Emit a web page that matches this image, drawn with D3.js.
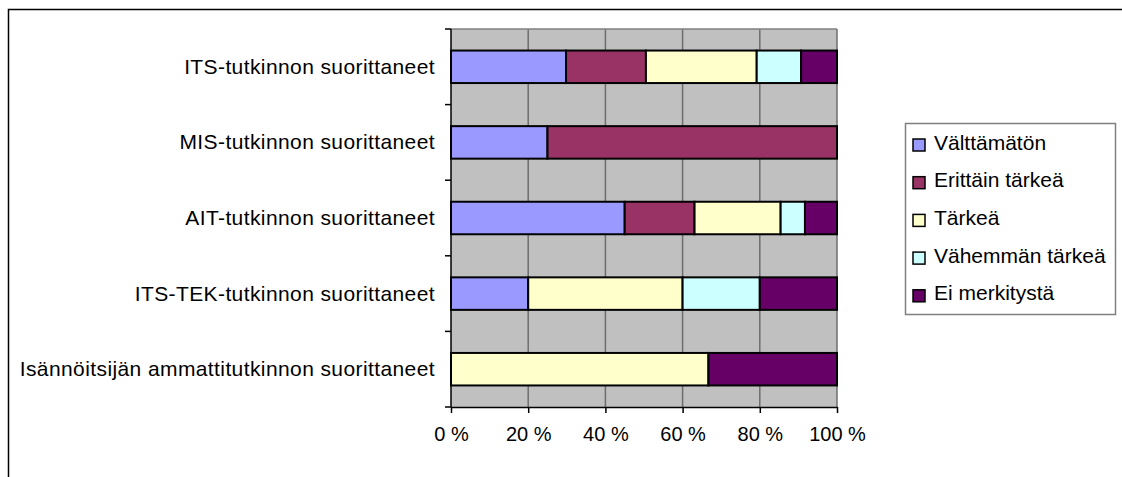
<!DOCTYPE html>
<html>
<head>
<meta charset="utf-8">
<script src="https://cdn.jsdelivr.net/npm/d3@7/dist/d3.min.js"></script>
<style>
  html, body { margin: 0; padding: 0; background: #fff; }
  svg { display: block; font-family: "Liberation Sans", Arial, sans-serif; }
</style>
</head>
<body>
<svg id="chart" width="1122" height="477"></svg>
<script>
// Respondent groups (top to bottom)
const categories = [
  "ITS-tutkinnon suorittaneet",
  "MIS-tutkinnon suorittaneet",
  "AIT-tutkinnon suorittaneet",
  "ITS-TEK-tutkinnon suorittaneet",
  "Isännöitsijän ammattitutkinnon suorittaneet"
];

// Answer classes, in stacking order
const seriesNames = ["Välttämätön", "Erittäin tärkeä", "Tärkeä", "Vähemmän tärkeä", "Ei merkitystä"];

// Share of answers (%) per group, one array per answer class
const valttamaton    = [29.8, 25.0, 45.0, 20.0, 0];
const erittainTarkea = [20.7, 75.0, 18.1, 0, 0];
const tarkea         = [28.7, 0, 22.3, 40.0, 66.7];
const vahemmanTarkea = [11.5, 0, 6.3, 20.0, 0];
const eiMerkitysta   = [9.3, 0, 8.3, 20.0, 33.3];

const xTicks = [0, 20, 40, 60, 80, 100];
const xTickLabels = ["0 %", "20 %", "40 %", "60 %", "80 %", "100 %"];

const colors = ["#9999FF", "#993366", "#FFFFCC", "#CCFFFF", "#660066"];

const seriesValues = [valttamaton, erittainTarkea, tarkea, vahemmanTarkea, eiMerkitysta];
const rows = categories.map((c, i) => {
  const r = { category: c };
  seriesNames.forEach((s, k) => { r[s] = seriesValues[k][i]; });
  return r;
});

const svg = d3.select("#chart");

// Chart frame
svg.append("rect")
  .attr("x", 8.5).attr("y", 9.5)
  .attr("width", 1200).attr("height", 600)
  .attr("fill", "#fff").attr("stroke", "#000").attr("stroke-width", 1.5);

const plot = { left: 451, right: 837, top: 29, bottom: 407 };

const x = d3.scaleLinear().domain([0, 100]).range([plot.left, plot.right]);
const y = d3.scaleBand().domain(categories)
  .range([plot.top, plot.bottom])
  .paddingInner(0.57).paddingOuter(0.285);

// Plot background
svg.append("rect")
  .attr("x", plot.left).attr("y", plot.top)
  .attr("width", plot.right - plot.left).attr("height", plot.bottom - plot.top)
  .attr("fill", "#C0C0C0");

// Vertical gridlines
svg.append("g")
  .selectAll("line")
  .data(xTicks.filter(t => t > 0))
  .join("line")
  .attr("x1", d => x(d)).attr("x2", d => x(d))
  .attr("y1", plot.top).attr("y2", plot.bottom)
  .attr("stroke", "#6e6e6e").attr("stroke-width", 1.5);

// Top plot border
svg.append("line")
  .attr("x1", plot.left).attr("x2", plot.right)
  .attr("y1", plot.top).attr("y2", plot.top)
  .attr("stroke", "#808080").attr("stroke-width", 1.5);

// Stacked bars
const stack = d3.stack().keys(seriesNames);
const stacked = stack(rows);

svg.append("g")
  .selectAll("g")
  .data(stacked)
  .join("g")
  .attr("fill", (d, i) => colors[i])
  .selectAll("rect")
  .data(d => d.filter(p => p[1] - p[0] > 0))
  .join("rect")
  .attr("x", d => x(d[0]))
  .attr("width", d => x(d[1]) - x(d[0]))
  .attr("y", d => y(d.data.category))
  .attr("height", y.bandwidth())
  .attr("stroke", "#000").attr("stroke-width", 2);

// X axis
const xAxis = d3.axisBottom(x)
  .tickValues(xTicks)
  .tickFormat((d, i) => xTickLabels[i])
  .tickSize(6).tickSizeOuter(0).tickPadding(14);

const gx = svg.append("g")
  .attr("transform", `translate(0,${plot.bottom})`)
  .call(xAxis);
gx.select(".domain").attr("stroke", "#000").attr("stroke-width", 1.5);
gx.selectAll(".tick line").attr("stroke", "#000").attr("stroke-width", 1.5);
gx.selectAll(".tick text")
  .attr("font-size", 20).attr("font-family", "Liberation Sans, Arial, sans-serif")
  .attr("fill", "#000");

// Y axis: ticks sit between categories
const yBoundaries = d3.range(categories.length + 1).map(i => plot.top + i * y.step());
svg.append("line")
  .attr("x1", plot.left).attr("x2", plot.left)
  .attr("y1", plot.top).attr("y2", plot.bottom)
  .attr("stroke", "#000").attr("stroke-width", 1.5);
svg.append("g")
  .selectAll("line")
  .data(yBoundaries)
  .join("line")
  .attr("x1", plot.left - 6).attr("x2", plot.left)
  .attr("y1", d => d).attr("y2", d => d)
  .attr("stroke", "#000").attr("stroke-width", 1.5);

svg.append("g")
  .selectAll("text")
  .data(categories)
  .join("text")
  .attr("x", plot.left - 16)
  .attr("y", d => y(d) + y.bandwidth() / 2)
  .attr("dy", "0.33em")
  .attr("text-anchor", "end")
  .attr("font-size", 21)
  .attr("letter-spacing", 0.4)
  .attr("fill", "#000")
  .text(d => d);

// Legend
const legend = svg.append("g");
legend.append("rect")
  .attr("x", 905.5).attr("y", 123.5)
  .attr("width", 210).attr("height", 191)
  .attr("fill", "#fff").attr("stroke", "#808080").attr("stroke-width", 1.5);

const legendItems = legend.selectAll("g.item")
  .data(seriesNames)
  .join("g")
  .attr("class", "item")
  .attr("transform", (d, i) => `translate(0,${145 + i * 37.7})`);

legendItems.append("rect")
  .attr("x", 913).attr("y", -6)
  .attr("width", 12).attr("height", 12)
  .attr("fill", (d, i) => colors[i])
  .attr("stroke", "#000").attr("stroke-width", 1.5);

legendItems.append("text")
  .attr("x", 934).attr("y", 4.5)
  .attr("font-size", 21)
  .attr("fill", "#000")
  .text(d => d);
</script>
</body>
</html>
